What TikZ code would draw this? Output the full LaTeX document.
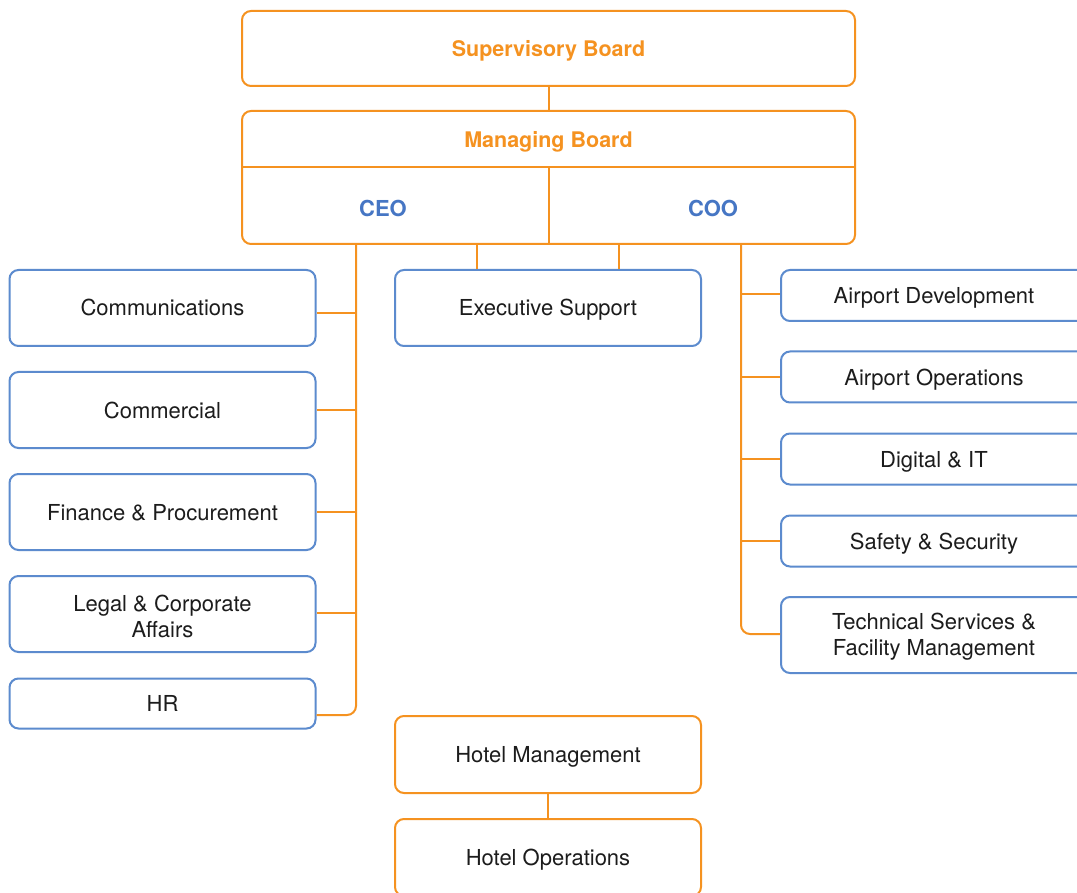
\documentclass[tikz,border=0pt]{standalone}
\usepackage{fontspec}
\setmainfont{TeX Gyre Heros}
\definecolor{org}{RGB}{245,146,32}
\definecolor{blu}{RGB}{92,139,206}
\definecolor{blutxt}{RGB}{70,118,196}
\definecolor{txt}{RGB}{28,28,28}
\begin{document}
\begin{tikzpicture}[x=1pt,y=-1pt,
  box/.style={draw, rounded corners=9pt, line width=2pt, minimum width=306pt, inner sep=0pt,
    align=center, text=txt, font=\fontsize{22}{26}\selectfont, text height=20pt, text depth=4pt},
  bbox/.style={box, draw=blu},
  obox/.style={box, draw=org},
  conn/.style={draw=org, line width=2pt},
  head/.style={font=\fontsize{21.5}{26}\selectfont\bfseries, text=org},
  exec/.style={font=\fontsize{22}{26}\selectfont\bfseries, text=blutxt}]
\useasboundingbox (0,0) rectangle (1077,893);
\clip (0,0) rectangle (1077,893);
\fill[white] (0,0) rectangle (1077,893);

% top boards
\node[obox, minimum width=613pt, minimum height=75pt, head] (sb) at (548.5,48.5) {Supervisory Board};
\node[obox, minimum width=613pt, minimum height=133pt] (mb) at (548.5,177.5) {};
\node[head] (mbt) at (548.5,141.5) {Managing Board};
\node[exec] (ceo) at (383,208.5) {CEO};
\node[exec] (coo) at (713,208.5) {COO};
\coordinate (dl) at (242,167);
\coordinate (dr) at (855,167);
\coordinate (dm) at (548.5,167);
\draw[conn] (dl) -- (dr);
\draw[conn] (dm) -- (mb.south);
\draw[conn] (sb.south) -- (mb.north);

% executive support
\node[bbox, minimum height=76pt] (es) at (548,308) {Executive Support};
\coordinate (e1) at (477,0);
\coordinate (e2) at (619,0);
\draw[conn] (mb.south -| e1) -- (es.north -| e1);
\draw[conn] (mb.south -| e2) -- (es.north -| e2);

% left column
\node[bbox, minimum height=76pt] (comm) at (162.5,308) {Communications};
\node[bbox, minimum height=76pt] (cmr) at (162.5,410) {Commercial};
\node[bbox, minimum height=76pt] (fin) at (162.5,512) {Finance \& Procurement};
\node[bbox, minimum height=76pt, text height=51pt, text depth=4pt] (leg) at (162.5,614) {Legal \& Corporate\\Affairs};
\node[bbox, minimum height=50pt] (hr) at (162.5,703.5) {HR};
\coordinate (ceoT) at (356,244);
\coordinate (l1) at (356,313);
\coordinate (l2) at (356,410);
\coordinate (l3) at (356,512);
\coordinate (l4) at (356,613);
\coordinate (l5) at (356,715);
\draw[conn, rounded corners=9pt] (ceoT) |- (l5 -| hr.east);
\draw[conn] (l1) -- (l1 -| comm.east);
\draw[conn] (l2) -- (l2 -| cmr.east);
\draw[conn] (l3) -- (l3 -| fin.east);
\draw[conn] (l4) -- (l4 -| leg.east);

% right column
\node[bbox, minimum height=51pt] (ad) at (934,295.5) {Airport Development};
\node[bbox, minimum height=51pt] (ao) at (934,377) {Airport Operations};
\node[bbox, minimum height=51pt] (dit) at (934,459) {Digital \& IT};
\node[bbox, minimum height=51pt] (ss) at (934,541) {Safety \& Security};
\node[bbox, minimum height=76pt, text height=45pt, text depth=4pt] (tsf) at (934,635) {Technical Services \&\\Facility Management};
\coordinate (cooT) at (741,244);
\coordinate (r1) at (741,294);
\coordinate (r2) at (741,377);
\coordinate (r3) at (741,459);
\coordinate (r4) at (741,541);
\coordinate (r5) at (741,634);
\draw[conn, rounded corners=9pt] (cooT) |- (r5 -| tsf.west);
\draw[conn] (r1) -- (r1 -| ad.west);
\draw[conn] (r2) -- (r2 -| ao.west);
\draw[conn] (r3) -- (r3 -| dit.west);
\draw[conn] (r4) -- (r4 -| ss.west);

% hotel
\node[obox, minimum height=77pt] (hm) at (548,754.5) {Hotel Management};
\node[obox, minimum height=77pt] (ho) at (548,857.5) {Hotel Operations};
\draw[conn] (hm.south) -- (ho.north);
\end{tikzpicture}
\end{document}
